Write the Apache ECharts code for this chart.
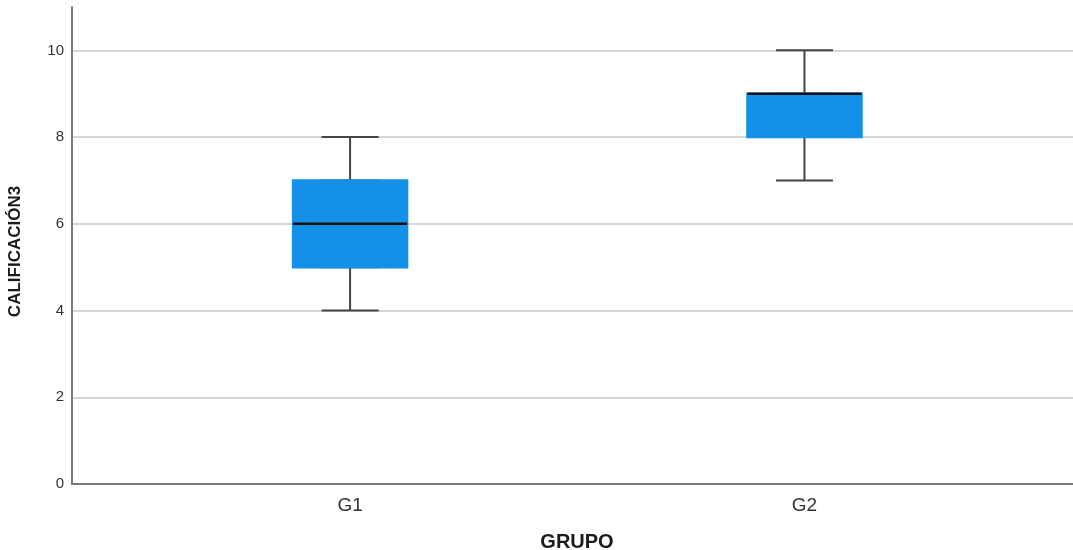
<!DOCTYPE html>
<html>
<head>
<meta charset="utf-8">
<script src="https://cdn.jsdelivr.net/npm/echarts@6/dist/echarts.min.js"></script>
<style>html,body{margin:0;padding:0;background:#fff;}#c{width:1073px;height:550px;}</style>
</head>
<body>
<div id="c"></div>
<script>
var groups = ['G1', 'G2'];
var groupPos = [1, 2];
var mins = [4, 7];
var q1s = [5, 8];
var medians = [6, 9];
var q3s = [7, 9];
var maxs = [8, 10];
var yTicks = [0, 2, 4, 6, 8, 10];

var whiskerData = groupPos.map(function (x, i) { return [x, mins[i], q1s[i], medians[i], q3s[i], maxs[i]]; });
var boxData = groupPos.map(function (x, i) { return [x, q1s[i], q1s[i], medians[i], q3s[i], q3s[i]]; });
var medData = groupPos.map(function (x, i) { return [x, medians[i], medians[i], medians[i], medians[i], medians[i]]; });

var XMIN = 0.388, XMAX = 2.591;
function hiddenX() {
  return { type: 'value', min: XMIN, max: XMAX, show: false, splitLine: { show: false } };
}

var chart = echarts.init(document.getElementById('c'), null, { renderer: 'canvas' });
chart.setOption({
  animation: false,
  backgroundColor: '#ffffff',
  grid: { left: 72, right: 0, top: 7, bottom: 66, containLabel: false, outerBoundsMode: 'none' },
  xAxis: [{
    type: 'value', min: XMIN, max: XMAX,
    name: 'GRUPO', nameLocation: 'middle', nameGap: 48,
    nameTextStyle: { fontFamily: 'Liberation Sans, Arial', fontWeight: 'bold', fontSize: 20, color: '#1a1a1a', padding: [0, 0, 0, 9] },
    axisLine: { show: true, onZero: false, lineStyle: { color: '#7a7a7a', width: 2 } },
    axisTick: { show: false },
    splitLine: { show: false },
    axisLabel: {
      customValues: groupPos, margin: 12,
      formatter: function (v) { var i = groupPos.indexOf(v); return i >= 0 ? groups[i] : ''; },
      fontFamily: 'Liberation Sans, Arial', fontSize: 19, color: '#333'
    }
  }, hiddenX(), hiddenX()],
  yAxis: {
    type: 'value', min: 0, max: 11, interval: 2,
    name: 'CALIFICACIÓN3', nameLocation: 'middle', nameGap: 48, nameRotate: 90,
    nameTextStyle: { fontFamily: 'Liberation Sans, Arial', fontWeight: 'bold', fontSize: 17, color: '#1a1a1a', padding: [0, 12, 0, 0] },
    axisLine: { show: true, lineStyle: { color: '#7a7a7a', width: 2 } },
    axisTick: { show: false },
    splitLine: { show: true, showMaxLine: false, lineStyle: { color: '#c8c8c8', width: 1.5 } },
    axisLabel: {
      customValues: yTicks, margin: 8,
      fontFamily: 'Liberation Sans, Arial', fontSize: 15, color: '#333'
    }
  },
  series: [
    {
      type: 'boxplot', name: 'whiskers', xAxisIndex: 0, data: whiskerData, boxWidth: [57, 57],
      itemStyle: { color: 'rgba(0,0,0,0)', borderColor: '#454545', borderWidth: 2 },
      z: 2
    },
    {
      type: 'boxplot', name: 'box', xAxisIndex: 1, data: boxData, boxWidth: [114, 114],
      itemStyle: { color: '#1590e8', borderColor: '#1590e8', borderWidth: 2.5 },
      z: 3
    },
    {
      type: 'boxplot', name: 'median', xAxisIndex: 2, data: medData, boxWidth: [114, 114],
      itemStyle: { color: 'rgba(0,0,0,0)', borderColor: '#111111', borderWidth: 2.5 },
      z: 4
    }
  ]
});
</script>
</body>
</html>
